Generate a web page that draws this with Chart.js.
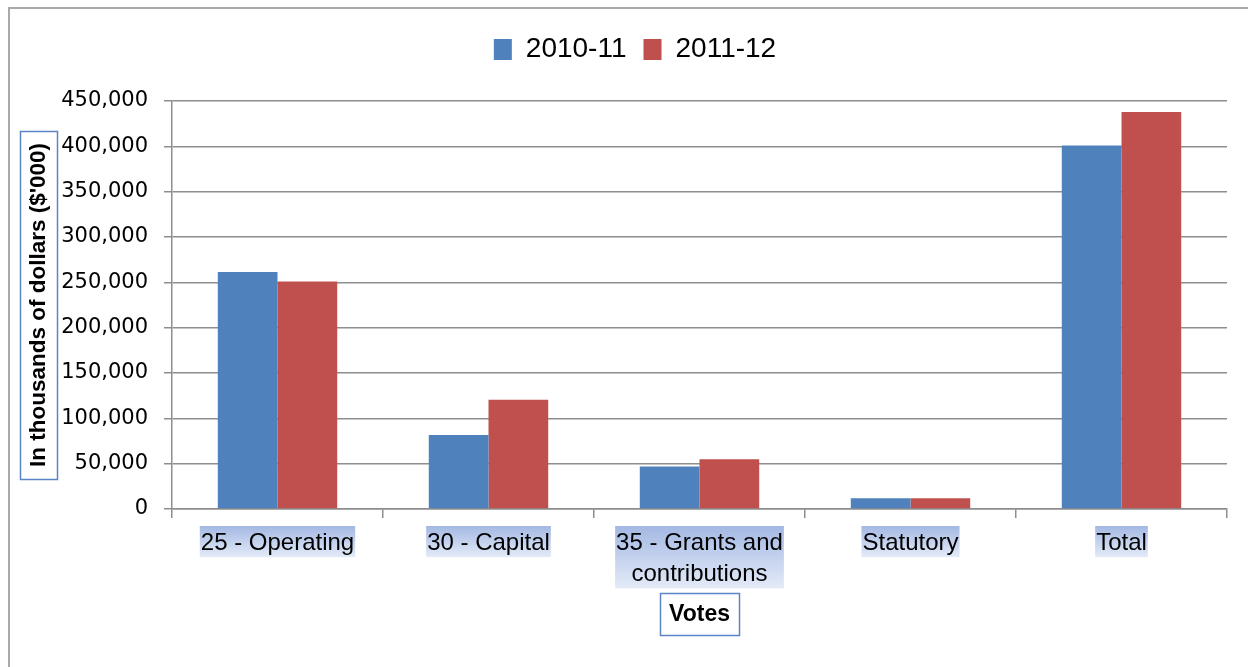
<!DOCTYPE html>
<html><head><meta charset="utf-8">
<script src="https://cdn.jsdelivr.net/npm/chart.js@4/dist/chart.umd.min.js"></script>
<style>
html,body{margin:0;padding:0;background:#fff;overflow:hidden}
#wrap{position:relative;width:1248px;height:667px}
#frame{position:absolute;left:8px;top:7px;width:1300px;height:700px;border-left:2px solid #a9a9a9;border-top:2px solid #a9a9a9;pointer-events:none;box-sizing:border-box}
</style></head><body>
<div id="wrap"><canvas id="c" width="1248" height="667"></canvas><div id="frame"></div></div>
<script>
const categories = ['25 - Operating', '30 - Capital', ['35 - Grants and', 'contributions'], 'Statutory', 'Total'];
const seriesNames = ['2010-11', '2011-12'];
const values2010 = [261500, 81500, 47000, 11800, 401000];
const values2011 = [251000, 120500, 55000, 11800, 438000];
const yTickValues = [0, 50000, 100000, 150000, 200000, 250000, 300000, 350000, 400000, 450000];
const yTitle = 'In thousands of dollars ($\'000)';
const xTitle = 'Votes';

const BLUE = '#4f81bd', RED = '#c0504d', GRID = '#8e8e8e', BOXC = '#5b84c4';
const X_TICK_FONT = {family: 'Liberation Sans', size: 24, lineHeight: 1.3};
const X_TICK_LEN = 9, X_TICK_PAD = 10;

const decor = {
  id: 'decor',
  beforeDraw(chart) {
    const ctx = chart.ctx, xs = chart.scales.x;
    ctx.save();
    ctx.font = X_TICK_FONT.size + 'px "' + X_TICK_FONT.family + '"';
    const lh = X_TICK_FONT.size * X_TICK_FONT.lineHeight;
    const top = xs.top + X_TICK_LEN + X_TICK_PAD - 2;
    categories.forEach((lab, i) => {
      const lines = Array.isArray(lab) ? lab : [lab];
      const w = Math.max(...lines.map(l => ctx.measureText(l).width)) + 2;
      const cx = xs.getPixelForTick(i);
      const h = lines.length * lh;
      const g = ctx.createLinearGradient(0, top, 0, top + h);
      g.addColorStop(0, '#a3b8e3');
      g.addColorStop(1, '#e4ebf8');
      ctx.fillStyle = g;
      ctx.fillRect(cx - w / 2, top, w, h);
    });
    ctx.restore();
  },
  afterDraw(chart) {
    const ctx = chart.ctx;
    ctx.save();
    ctx.strokeStyle = BOXC;
    ctx.lineWidth = 1.5;
    const ys = chart.scales.y, yt = ys.options.title;
    const yf = Chart.helpers.toFont(yt.font);
    ctx.font = yf.string;
    const yw = ctx.measureText(yTitle).width;
    const ycx = ys.left + yf.lineHeight / 2 + 3;
    const ycy = (ys.top + ys.bottom) / 2;
    ctx.strokeRect(Math.round(ycx - 18.5) + 0.5, Math.round(ycy - yw / 2 - 12) + 0.5, 37, Math.round(yw + 24));
    const xs = chart.scales.x, xt = xs.options.title;
    const xf = Chart.helpers.toFont(xt.font);
    ctx.font = xf.string;
    const xw = ctx.measureText(xTitle).width;
    const xcx = (xs.left + xs.right) / 2;
    const xcy = xs.bottom - (xf.lineHeight / 2 + 39);
    ctx.strokeRect(Math.round(xcx - xw / 2 - 9) + 0.5, Math.round(xcy - 21) + 0.5, Math.round(xw + 18), 42);
    ctx.restore();
  }
};

new Chart(document.getElementById('c'), {
  type: 'bar',
  data: {
    labels: categories,
    datasets: [
      {label: seriesNames[0], data: values2010, backgroundColor: BLUE, borderWidth: 0},
      {label: seriesNames[1], data: values2011, backgroundColor: RED, borderWidth: 0}
    ]
  },
  plugins: [decor],
  options: {
    responsive: false,
    animation: false,
    devicePixelRatio: 1,
    layout: {padding: {left: 22, right: 0, top: 18.5, bottom: 0}},
    datasets: {bar: {barPercentage: 1, categoryPercentage: 0.566}},
    plugins: {
      tooltip: {enabled: false},
      title: {display: false},
      legend: {
        position: 'top',
        align: 'center',
        labels: {
          boxWidth: 18, boxHeight: 21, padding: 17, color: '#000',
          font: {family: 'Liberation Sans', size: 28, lineHeight: 1}
        }
      }
    },
    scales: {
      x: {
        type: 'category',
        position: 'bottom',
        afterFit: s => { s.height = 158; },
        grid: {display: true, offset: true, drawOnChartArea: false, drawTicks: true, tickLength: X_TICK_LEN, color: GRID, lineWidth: 1.5},
        border: {display: true, color: GRID, width: 1.5},
        ticks: {color: '#000', font: X_TICK_FONT, padding: X_TICK_PAD, maxRotation: 0, minRotation: 0, autoSkip: false},
        title: {display: true, text: xTitle, color: '#000', font: {family: 'Liberation Sans', size: 23, weight: 'bold', lineHeight: 1.2}, padding: {top: 0, bottom: 39}}
      },
      xTop: {
        axis: 'x', type: 'linear', position: 'top', display: true,
        afterFit: s => { s.height = 27.5; },
        grid: {display: false}, border: {display: false}, ticks: {display: false}
      },
      y: {
        type: 'linear',
        position: 'left',
        min: yTickValues[0],
        max: yTickValues[yTickValues.length - 1],
        afterFit: s => { s.width = 150; },
        afterBuildTicks: s => { s.ticks = yTickValues.map(v => ({value: v})); },
        grid: {color: GRID, lineWidth: 1.5, drawTicks: true, tickLength: 8},
        border: {display: true, color: GRID, width: 1.5},
        ticks: {color: '#000', font: {family: 'DejaVu Sans', size: 21}, padding: 16,
          callback: v => v.toLocaleString('en-US')},
        title: {display: true, text: yTitle, color: '#000', font: {family: 'Liberation Sans', size: 22.5, weight: 'bold', lineHeight: 1.2}, padding: {top: 3, bottom: 0}}
      },
      yRight: {
        axis: 'y', type: 'linear', position: 'right', display: true,
        afterFit: s => { s.width = 21; },
        grid: {display: false}, border: {display: false}, ticks: {display: false}
      }
    }
  }
});
</script>
</body></html>
